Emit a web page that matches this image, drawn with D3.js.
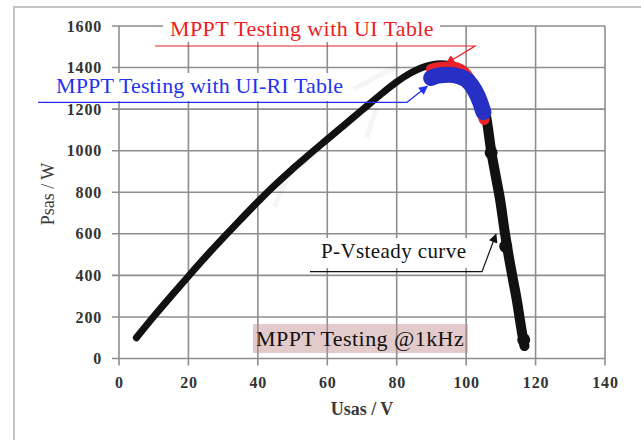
<!DOCTYPE html>
<html>
<head>
<meta charset="utf-8">
<script src="https://cdn.jsdelivr.net/npm/d3@7"></script>
<style>
  body { margin: 0; background: #fff; }
  svg { display: block; font-family: "Liberation Serif", "Times New Roman", serif; }
</style>
</head>
<body>
<div id="chart"></div>
<script>
// P-V steady curve (Usas in V, Psas in W)
var steadyV = [5, 10, 15, 20, 25, 30, 35, 40, 45, 50, 55, 60, 65, 70, 75, 80, 84, 87, 90, 93, 96, 99, 101.5, 103.5, 105, 105.8, 107.2, 108.5, 109.8, 111.2, 112.5, 113.6, 114.6, 115.6, 116.4, 116.8];
var steadyP = [100, 202, 300, 396, 490, 580, 668, 754, 836, 912, 985, 1055, 1125, 1195, 1265, 1331, 1374, 1398, 1413, 1418, 1410, 1385, 1345, 1280, 1210, 1160, 1000, 880, 762, 600, 470, 370, 281, 175, 95, 60];
// thicker scatter spots on the falling side
var blobV = [107.2, 111.4, 116.6];
var blobP = [990, 540, 90];
// MPPT with UI table (red) and UI-RI table (blue)
var uiV = [90, 93, 96, 99, 101, 102.8, 104, 105.2];
var uiP = [1392, 1402, 1402, 1385, 1345, 1285, 1225, 1150];
var uiriV = [89.9, 92, 95, 98, 100.5, 102.5, 104, 105];
var uiriP = [1350, 1362, 1365, 1357, 1335, 1290, 1235, 1185];
// faint ghost trace of transient samples
var ghostV = [45, 50, 55, 60, 63, null, 71.5, 73, 74.2, null, 68, 73, 77, 80];
var ghostP = [740, 900, 960, 1060, 1110, null, 1070, 1150, 1200, null, 1300, 1345, 1380, 1400];

var xTicks = [0, 20, 40, 60, 80, 100, 120, 140];
var yTicks = [0, 200, 400, 600, 800, 1000, 1200, 1400, 1600];

(function() {
  var W = 641, H = 440;
  var pLeft = 119, pRight = 605, pTop = 26, pBottom = 358.5;

  var svg = d3.select("#chart").append("svg")
      .attr("width", W)
      .attr("height", H);

  var defs = svg.append("defs");
  function marker(id, color) {
    defs.append("marker")
        .attr("id", id)
        .attr("viewBox", "0 0 10 10")
        .attr("refX", 9).attr("refY", 5)
        .attr("markerWidth", 10).attr("markerHeight", 9)
        .attr("markerUnits", "userSpaceOnUse")
        .attr("orient", "auto")
      .append("path")
        .attr("d", "M0,0 L10,5 L0,10 z")
        .style("fill", color);
  }
  marker("arrRed", "#ee1c24");
  marker("arrBlue", "#2233ee");
  marker("arrBlack", "#111");

  // outer frame
  svg.append("rect")
      .attr("x", 14).attr("y", 7)
      .attr("width", 700).attr("height", 500)
      .style("fill", "none")
      .style("stroke", "#c4c4c4")
      .style("stroke-width", 2);

  var x = d3.scaleLinear().domain([0, 140]).range([pLeft, pRight]);
  var y = d3.scaleLinear().domain([0, 1600]).range([pBottom, pTop]);

  // grid
  var grid = svg.append("g").attr("class", "grid");
  grid.selectAll("line.v")
      .data(xTicks)
      .enter()
    .append("line")
      .attr("x1", function(d) { return x(d); })
      .attr("x2", function(d) { return x(d); })
      .attr("y1", pTop).attr("y2", pBottom + 7)
      .style("stroke", "#8e8e8e")
      .style("stroke-width", 1.6);
  grid.selectAll("line.h")
      .data(yTicks)
      .enter()
    .append("line")
      .attr("x1", pLeft - 7).attr("x2", pRight)
      .attr("y1", function(d) { return y(d); })
      .attr("y2", function(d) { return y(d); })
      .style("stroke", "#8e8e8e")
      .style("stroke-width", 1.6);

  // tick labels
  var xAxis = svg.append("g")
      .attr("transform", "translate(0," + pBottom + ")")
      .call(d3.axisBottom(x).tickValues(xTicks).tickSize(0).tickPadding(22));
  var yAxis = svg.append("g")
      .attr("transform", "translate(" + pLeft + ",0)")
      .call(d3.axisLeft(y).tickValues(yTicks).tickSize(0).tickPadding(17).tickFormat(d3.format("d")));
  [xAxis, yAxis].forEach(function(a) {
    a.select(".domain").remove();
    a.selectAll("text")
        .style("font-family", "Liberation Serif")
        .style("font-size", "16px")
        .style("letter-spacing", "0.8px")
        .style("font-weight", "bold")
        .style("fill", "#333");
  });
  xAxis.selectAll("text").attr("dy", "0.45em");

  svg.append("text")
      .attr("x", 362).attr("y", 415)
      .attr("text-anchor", "middle")
      .style("font-size", "18px")
      .style("font-weight", "bold")
      .style("fill", "#3a3a3a")
      .text("Usas / V");
  svg.append("text")
      .attr("transform", "translate(54,194) rotate(-90)")
      .attr("text-anchor", "middle")
      .style("font-size", "18px")
      .style("fill", "#3a3a3a")
      .text("Psas / W");

  // data
  var line = d3.line()
      .defined(function(d) { return d[0] !== null; })
      .x(function(d) { return x(d[0]); })
      .y(function(d) { return y(d[1]); })
      .curve(d3.curveMonotoneX);

  function pairs(a, b) { return a.map(function(v, i) { return [v, b[i]]; }); }

  svg.append("path")
      .attr("d", line.curve(d3.curveCatmullRom)(pairs(ghostV, ghostP)))
      .style("fill", "none")
      .style("stroke", "#000")
      .style("stroke-opacity", 0.04)
      .style("stroke-width", 5)
      .style("stroke-linecap", "round");
  line.curve(d3.curveMonotoneX);

  var steady = pairs(steadyV, steadyP);
  svg.append("path")
      .attr("d", line(steady))
      .style("fill", "none")
      .style("stroke", "#111")
      .style("stroke-width", 7)
      .style("stroke-linecap", "round")
      .style("stroke-linejoin", "round");
  svg.append("path")
      .attr("d", line(steady.filter(function(d) { return d[0] >= 105; })))
      .style("fill", "none")
      .style("stroke", "#111")
      .style("stroke-width", 10)
      .style("stroke-linecap", "round");
  svg.selectAll("circle.blob")
      .data(pairs(blobV, blobP))
      .enter()
    .append("circle")
      .attr("cx", function(d) { return x(d[0]); })
      .attr("cy", function(d) { return y(d[1]); })
      .attr("r", 6.5)
      .style("fill", "#111");

  svg.append("path")
      .attr("d", line(pairs(uiV, uiP)))
      .style("fill", "none")
      .style("stroke", "#e8242a")
      .style("stroke-width", 11)
      .style("stroke-linecap", "round");
  svg.append("path")
      .attr("d", line(pairs(uiriV, uiriP)))
      .style("fill", "none")
      .style("stroke", "#2630c4")
      .style("stroke-width", 16)
      .style("stroke-linecap", "round");

  // annotations
  function label(o) {
    svg.append("rect")
        .attr("x", o.bx).attr("y", o.by)
        .attr("width", o.bw).attr("height", o.bh)
        .style("fill", o.bg || "#fff")
        .style("fill-opacity", o.bgOpacity || 1);
    svg.append("text")
        .attr("x", o.tx).attr("y", o.ty)
        .style("font-size", o.size + "px")
        .style("letter-spacing", o.ls + "px")
        .style("fill", o.color)
        .text(o.text);
    if (o.path) {
      svg.append("path")
          .attr("d", o.path)
          .style("fill", "none")
          .style("stroke", o.color)
          .style("stroke-width", 1.2)
          .attr("marker-end", "url(#" + o.marker + ")");
    }
  }

  label({ text: "MPPT Testing with UI Table", color: "#ee1c24", size: 22, ls: 0.4,
          tx: 170, ty: 36, bx: 163, by: 13, bw: 277, bh: 29,
          path: "M155,46 L475,46 L" + x(94.3) + "," + y(1420), marker: "arrRed" });
  label({ text: "MPPT Testing with UI-RI Table", color: "#2233ee", size: 22, ls: 0.15,
          tx: 56, ty: 93, bx: 50, by: 73, bw: 296, bh: 28,
          path: "M38,102.3 L407,102.3 L" + x(88.8) + "," + y(1310), marker: "arrBlue" });
  label({ text: "P-Vsteady curve", color: "#111", size: 21, ls: 0.4,
          tx: 321, ty: 257.5, bx: 310, by: 238, bw: 160, bh: 30,
          path: "M310,271.7 L482,271.7 L" + x(108.6) + "," + y(598), marker: "arrBlack" });
  label({ text: "MPPT Testing @1kHz", color: "#111", size: 22, ls: 0.45,
          tx: 256, ty: 345.5, bx: 253, by: 324, bw: 215, bh: 29,
          bg: "#c08c8c", bgOpacity: 0.45 });
})();
</script>
</body>
</html>
